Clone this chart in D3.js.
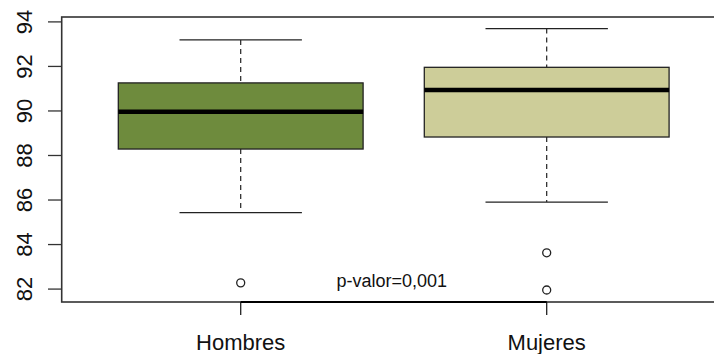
<!DOCTYPE html>
<html>
<head>
<meta charset="utf-8">
<script src="https://cdn.jsdelivr.net/npm/d3@7"></script>
<style>
  html, body { margin: 0; padding: 0; background: #fff; }
  svg { display: block; font-family: "Liberation Sans", Arial, sans-serif; }
</style>
</head>
<body>
<svg id="chart" width="714" height="354"></svg>
<script>
// Groups and their five-number summaries
const categories = ["Hombres", "Mujeres"];
const whiskerLow  = [85.43, 85.91];
const q1          = [88.29, 88.83];
const median      = [89.97, 90.94];
const q3          = [91.26, 91.96];
const whiskerHigh = [93.19, 93.70];
const outliers    = [[82.28], [83.63, 81.96]];
const fills       = ["#6e8b3d", "#cdcd99"];

const yTicks = [82, 84, 86, 88, 90, 92, 94];
const pLabel = "p-valor=0,001";

const svg = d3.select("#chart");

// Plot region (the frame runs past the right edge of the canvas)
const x = d3.scaleLinear().domain([0.415, 2.585]).range([61.7, 725.7]);
const y = d3.scaleLinear().domain([81.42, 94.22]).range([302, 17]);

const boxHalf = 0.4, capHalf = 0.2;
const ink = "#222";

// Frame
svg.append("rect")
  .attr("x", x(0.415)).attr("y", y(94.22))
  .attr("width", x(2.585) - x(0.415)).attr("height", y(81.42) - y(94.22))
  .attr("fill", "none").attr("stroke", "#333").attr("stroke-width", 1.6);

// Y axis
const yAxis = svg.append("g");
yAxis.selectAll("line").data(yTicks).enter().append("line")
  .attr("x1", 48).attr("x2", x(0.415))
  .attr("y1", d => y(d)).attr("y2", d => y(d))
  .attr("stroke", "#333").attr("stroke-width", 1.3);
yAxis.selectAll("text").data(yTicks).enter().append("text")
  .attr("transform", d => `translate(31.5,${y(d)}) rotate(-90)`)
  .attr("text-anchor", "middle")
  .attr("font-size", 22).attr("fill", "#111")
  .text(d => d);

// X axis ticks and labels
const xAxis = svg.append("g");
xAxis.selectAll("line").data(categories).enter().append("line")
  .attr("x1", (d, i) => x(i + 1)).attr("x2", (d, i) => x(i + 1))
  .attr("y1", y(81.42)).attr("y2", 315)
  .attr("stroke", "#222").attr("stroke-width", 1.3);
xAxis.selectAll("text").data(categories).enter().append("text")
  .attr("x", (d, i) => x(i + 1)).attr("y", 350)
  .attr("text-anchor", "middle")
  .attr("font-size", 22).attr("fill", "#111")
  .text(d => d);

// Boxes
const groups = svg.selectAll("g.box").data(categories).enter().append("g").attr("class", "box");

groups.each(function(d, i) {
  const g = d3.select(this);
  const cx = x(i + 1);
  // whiskers
  g.append("line").attr("x1", cx).attr("x2", cx)
    .attr("y1", y(whiskerHigh[i])).attr("y2", y(q3[i]))
    .attr("stroke", ink).attr("stroke-width", 1.2).attr("stroke-dasharray", "5,4");
  g.append("line").attr("x1", cx).attr("x2", cx)
    .attr("y1", y(q1[i])).attr("y2", y(whiskerLow[i]))
    .attr("stroke", ink).attr("stroke-width", 1.2).attr("stroke-dasharray", "5,4");
  // caps
  [whiskerHigh[i], whiskerLow[i]].forEach(v => {
    g.append("line")
      .attr("x1", x(i + 1 - capHalf)).attr("x2", x(i + 1 + capHalf))
      .attr("y1", y(v)).attr("y2", y(v))
      .attr("stroke", ink).attr("stroke-width", 1.3);
  });
  // box
  g.append("rect")
    .attr("x", x(i + 1 - boxHalf)).attr("width", x(i + 1 + boxHalf) - x(i + 1 - boxHalf))
    .attr("y", y(q3[i])).attr("height", y(q1[i]) - y(q3[i]))
    .attr("fill", fills[i]).attr("stroke", ink).attr("stroke-width", 1.3);
  // median
  g.append("line")
    .attr("x1", x(i + 1 - boxHalf)).attr("x2", x(i + 1 + boxHalf))
    .attr("y1", y(median[i])).attr("y2", y(median[i]))
    .attr("stroke", "#000").attr("stroke-width", 4.5);
  // outliers
  g.selectAll("circle").data(outliers[i]).enter().append("circle")
    .attr("cx", cx).attr("cy", v => y(v)).attr("r", 4)
    .attr("fill", "none").attr("stroke", ink).attr("stroke-width", 1.3);
});

// Comparison bar between the two groups with its p-value
svg.append("line")
  .attr("x1", x(1)).attr("x2", x(2))
  .attr("y1", y(81.42)).attr("y2", y(81.42))
  .attr("stroke", "#000").attr("stroke-width", 2.2);
svg.append("text")
  .attr("x", x(1.5) - 2).attr("y", 287)
  .attr("text-anchor", "middle")
  .attr("font-size", 18).attr("fill", "#111")
  .text(pLabel);
</script>
</body>
</html>
